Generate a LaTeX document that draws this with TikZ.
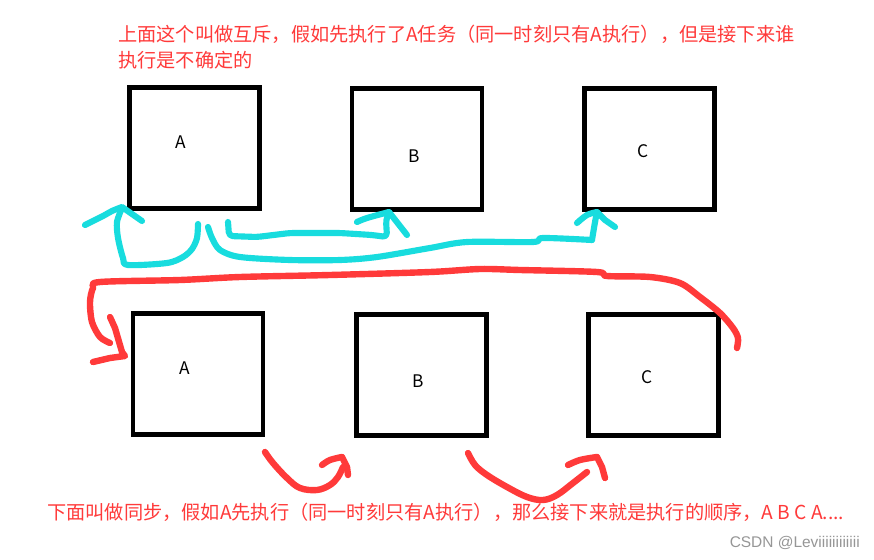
\documentclass[tikz,border=0pt]{standalone}
\usepackage{fontspec}
\setmainfont{Liberation Sans}
\newfontfamily\cjk{Noto Sans CJK SC}
\definecolor{myred}{RGB}{255,58,58}
\definecolor{mycyan}{RGB}{24,220,222}
\definecolor{wmgray}{RGB}{150,150,150}
\begin{document}
\begin{tikzpicture}[x=0.75pt,y=-0.75pt,
  box/.style={draw=black,line width=3.5pt,minimum width=97.7pt,minimum height=91pt,inner sep=0pt},
  letter/.style={font=\cjk\fontsize{13}{15}\selectfont,inner sep=0pt},
  note/.style={anchor=west,text=myred,font=\cjk\fontsize{14.4}{16}\selectfont,inner sep=0pt},
  cy/.style={draw=mycyan,line width=4.6pt,line cap=round,line join=round},
  rd/.style={draw=myred,line width=4.8pt,line cap=round,line join=round}]
\useasboundingbox (0,0) rectangle (874,560);
\fill[white] (0,0) rectangle (874,560);

% boxes
\node[box] (tA) at (194.5,148) {};
\node[box] (tB) at (417,149) {};
\node[box] (tC) at (649.5,149) {};
\node[box] (bA) at (198,374) {};
\node[box] (bB) at (421.5,375) {};
\node[box] (bC) at (653.5,375) {};

\node[letter] (ltA) at (181,142) {A};
\node[letter] (ltB) at (414,156) {B};
\node[letter] (ltC) at (643,151) {C};
\node[letter] (lbA) at (185,368) {A};
\node[letter] (lbB) at (418,381) {B};
\node[letter] (lbC) at (647,377) {C};

% texts
\node[note] (n1) at (118,34) {上面这个叫做互斥，假如先执行了A任务（同一时刻只有A执行），但是接下来谁};
\node[note] (n2) at (118,60) {执行是不确定的};
\node[note] (n3) at (47,512) {下面叫做同步，假如A先执行（同一时刻只有A执行），那么接下来就是执行的顺序，A B C A....};
\node[anchor=east,text=wmgray,font=\fontsize{11.6}{13}\selectfont,inner sep=0pt] (wm) at (860,543) {CSDN @Leviiiiiiiiiiii};

% cyan strokes
\draw[cy] plot[smooth,tension=0.5] coordinates {(198,224) (197,238) (192,249) (183,257) (167,263) (128,265) (123,258) (118,238) (117,222) (122,208)};
\draw[cy] plot[smooth,tension=0.6] coordinates {(85,225) (103,216) (112,211) (122,207)} -- (142,221);

\draw[cy,rounded corners=3pt] (228,222) -- (229,236) -- (257,237) -- (290,233) -- (340,233) -- (372,235) -- (387,237) -- (386,220) -- (389,212);
\draw[cy] plot[smooth,tension=0.6] coordinates {(357,222) (367,218) (389,212)} -- (407,235);

\draw[cy] plot[smooth,tension=0.5] coordinates {(208,227) (212,238) (220,250) (240,257) (290,260) (340,260) (377,257) (430,248) (467,242) (533,242) (543,238) (592,240)};
\draw[cy,rounded corners=2pt] (592,240) -- (595,222) -- (597,212);
\draw[cy] plot[smooth,tension=0.6] coordinates {(577,223) (587,215) (597,212)} -- (605,220) -- (615,227);

% red big stroke
\draw[rd] plot[smooth,tension=0.5] coordinates {(110,343) (100,337) (92,322) (90,302) (93,288) (100,282) (180,280) (240,277) (330,275) (430,272) (480,269) (520,270) (597,272) (607,276) (650,277) (680,283) (700,297) (720,313) (733,328) (738,338) (737,348)};
\draw[rd] (110,317) -- (115,328) -- (122,352) -- (125,356) -- (110,358) -- (93,362);

% bottom red arrows
\draw[rd] plot[smooth,tension=0.6] coordinates {(265,452) (273,463) (287,478) (300,488) (317,490) (330,485) (338,477) (343,467)};
\draw[rd] plot[smooth,tension=0.6] coordinates {(322,465) (330,460) (342,457)} -- (347,467) -- (348,475);

\draw[rd] plot[smooth,tension=0.6] coordinates {(468,453) (475,465) (487,475) (507,487) (527,497) (543,500) (557,495) (573,483) (587,472)};
\draw[rd] plot[smooth,tension=0.6] coordinates {(568,465) (580,460) (597,457)} -- (602,467) -- (605,478);
\end{tikzpicture}
\end{document}
